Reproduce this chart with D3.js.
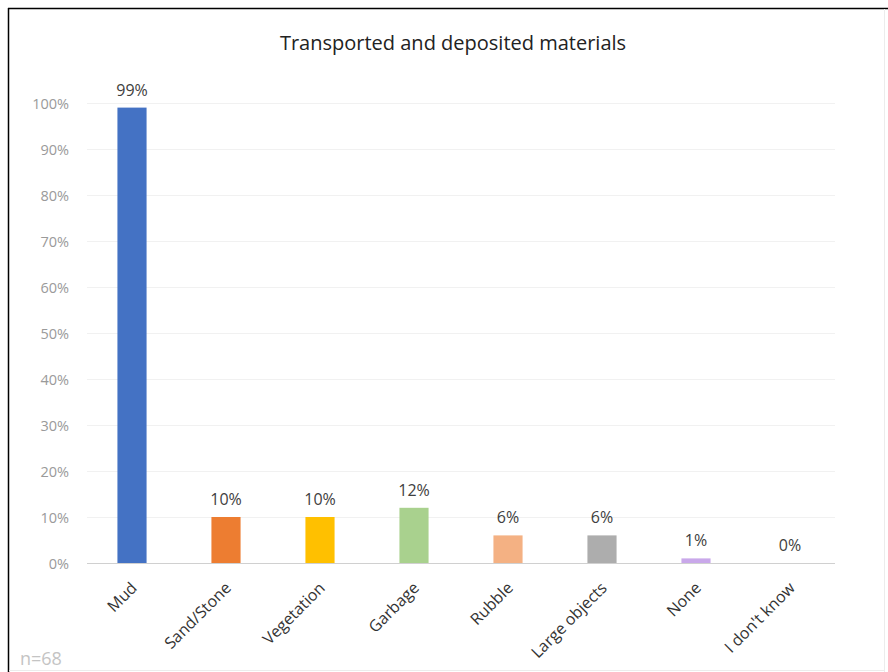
<!DOCTYPE html>
<html>
<head>
<meta charset="utf-8">
<script src="https://cdn.jsdelivr.net/npm/d3@7"></script>
<style>
  html, body { margin: 0; padding: 0; background: #fff; }
  svg { display: block; }
  svg text { font-family: "Open Sans", "Noto Sans", sans-serif; }
</style>
</head>
<body>
<svg id="chart" width="888" height="672"></svg>
<script>
// Share of respondents reporting each transported / deposited material
const categories = ["Mud", "Sand/Stone", "Vegetation", "Garbage", "Rubble", "Large objects", "None", "I don't know"];
const values = [99, 10, 10, 12, 6, 6, 1, 0];
const colors = ["#4472C4", "#ED7D31", "#FFC000", "#A9D18E", "#F4B183", "#ADADAD", "#C9A8EA", "#9E9E9E"];
const yTicks = [0, 10, 20, 30, 40, 50, 60, 70, 80, 90, 100];
const title = "Transported and deposited materials";
const note = "n=68";

const svg = d3.select("#chart");

// frame
svg.append("line").attr("x1", 8).attr("x2", 888).attr("y1", 8.5).attr("y2", 8.5)
  .attr("stroke", "#000").attr("stroke-width", 1.5);
svg.append("line").attr("x1", 8.5).attr("x2", 8.5).attr("y1", 8).attr("y2", 672)
  .attr("stroke", "#000").attr("stroke-width", 1.5);
svg.append("line").attr("x1", 884.5).attr("x2", 884.5).attr("y1", 9).attr("y2", 672)
  .attr("stroke", "#ececec").attr("stroke-width", 1);
svg.append("line").attr("x1", 9).attr("x2", 884).attr("y1", 670.5).attr("y2", 670.5)
  .attr("stroke", "#ececec").attr("stroke-width", 1);

const x = d3.scaleBand()
  .domain(categories)
  .range([85, 837])
  .paddingInner(0.69)
  .paddingOuter(0.345);

const y = d3.scaleLinear().domain([0, 100]).range([563, 103]);

// gridlines
svg.append("g")
  .selectAll("line")
  .data(yTicks.filter(d => d > 0))
  .join("line")
  .attr("x1", 87).attr("x2", 835)
  .attr("y1", d => Math.round(y(d)) + 0.5)
  .attr("y2", d => Math.round(y(d)) + 0.5)
  .attr("stroke", "#f1f1f1")
  .attr("stroke-width", 1);

// y axis labels
const yAxis = d3.axisLeft(y)
  .tickValues(yTicks)
  .tickFormat(d => d + "%")
  .tickSize(0)
  .tickPadding(0);
const gy = svg.append("g").attr("transform", "translate(69,0)").call(yAxis)
  .attr("font-family", null).attr("font-size", null);
gy.select(".domain").remove();
gy.selectAll("text")
  .attr("fill", "#9a9a9a")
  .style("font-size", "14.5px")
  .attr("dy", "0.35em");

// bars
svg.append("g")
  .selectAll("rect")
  .data(values)
  .join("rect")
  .attr("x", (d, i) => x(categories[i]))
  .attr("width", x.bandwidth())
  .attr("y", d => y(d))
  .attr("height", d => y(0) - y(d))
  .attr("fill", (d, i) => colors[i]);

// baseline
svg.append("line")
  .attr("x1", 87).attr("x2", 835)
  .attr("y1", y(0) + 0.5).attr("y2", y(0) + 0.5)
  .attr("stroke", "#d0d0d0").attr("stroke-width", 1.2);

// value labels
svg.append("g")
  .selectAll("text")
  .data(values)
  .join("text")
  .attr("x", (d, i) => x(categories[i]) + x.bandwidth() / 2)
  .attr("y", d => y(d) - 12)
  .attr("text-anchor", "middle")
  .attr("fill", "#404040")
  .style("font-size", "16px")
  .text(d => d + "%");

// x axis labels
const xAxis = d3.axisBottom(x).tickSize(0).tickPadding(0);
const gx = svg.append("g").attr("transform", `translate(0,${y(0)})`).call(xAxis)
  .attr("font-family", null).attr("font-size", null);
gx.select(".domain").remove();
gx.selectAll("text")
  .attr("fill", "#333")
  .style("font-size", "16px")
  .attr("text-anchor", "end")
  .attr("dy", null)
  .attr("y", 0)
  .attr("transform", "translate(6,26) rotate(-45)");

// title
svg.append("text")
  .attr("x", 453).attr("y", 50)
  .attr("text-anchor", "middle")
  .attr("fill", "#222")
  .style("font-size", "20px")
  .text(title);

// sample size note
svg.append("text")
  .attr("x", 20).attr("y", 665)
  .attr("fill", "#c4c4c4")
  .style("font-size", "18px")
  .text(note);
</script>
</body>
</html>
